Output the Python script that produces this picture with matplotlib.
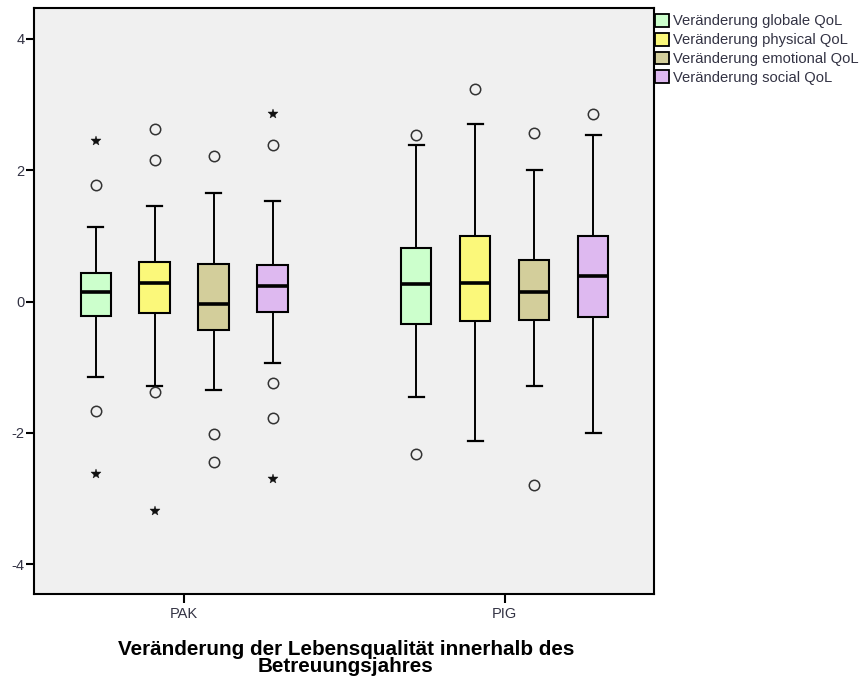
import numpy as np
import matplotlib
matplotlib.use('Agg')
import matplotlib.pyplot as plt
from matplotlib.patches import Patch

plt.rcParams['font.family'] = ['Liberation Sans', 'DejaVu Sans']
plt.rcParams['axes.unicode_minus'] = False

groups = ['PAK', 'PIG']
series = ['Veränderung globale QoL', 'Veränderung physical QoL',
          'Veränderung emotional QoL', 'Veränderung social QoL']
colors = ['#CCFFCC', '#FBF87A', '#D3CE9B', '#DEB9F0']

# box statistics per series, [PAK, PIG]
q1 = [[-0.22, -0.34], [-0.17, -0.30], [-0.43, -0.28], [-0.16, -0.24]]
med = [[0.15, 0.27], [0.29, 0.28], [-0.04, 0.14], [0.24, 0.39]]
q3 = [[0.44, 0.81], [0.60, 1.00], [0.57, 0.64], [0.55, 1.00]]
whislo = [[-1.15, -1.45], [-1.28, -2.12], [-1.35, -1.29], [-0.93, -2.00]]
whishi = [[1.14, 2.38], [1.46, 2.70], [1.65, 2.00], [1.53, 2.54]]

# outliers (circles) and extremes (stars)
outliers = [
    [[1.78, -1.67], [2.54, -2.32]],
    [[2.62, 2.15, -1.38], [3.24]],
    [[2.22, -2.01, -2.44], [2.56, -2.79]],
    [[2.39, -1.24, -1.77], [2.85]],
]
extremes = [
    [[2.44, -2.63], []],
    [[-3.18], []],
    [[], []],
    [[2.85, -2.70], []],
]

fig = plt.figure(figsize=(8.66, 6.78), dpi=100)
ax = fig.add_axes([0.0393, 0.1239, 0.7159, 0.8636])
ax.set_facecolor('#F0F0F0')

offsets = np.array([-1.5, -0.5, 0.5, 1.5]) * 0.184
width = 0.094

for s in range(len(series)):
    stats = []
    pos = []
    for g in range(len(groups)):
        stats.append(dict(med=med[s][g], q1=q1[s][g], q3=q3[s][g],
                          whislo=whislo[s][g], whishi=whishi[s][g], fliers=[]))
        pos.append(g + offsets[s])
    ax.bxp(stats, positions=pos, widths=width, patch_artist=True,
           showfliers=False, manage_ticks=False,
           boxprops=dict(facecolor=colors[s], edgecolor='black', linewidth=1.5),
           medianprops=dict(color='black', linewidth=2.6, solid_capstyle='butt'),
           whiskerprops=dict(color='black', linewidth=1.4),
           capprops=dict(color='black', linewidth=1.6),
           capwidths=0.047)
    for g in range(len(groups)):
        x = g + offsets[s]
        if outliers[s][g]:
            ax.plot([x] * len(outliers[s][g]), outliers[s][g], 'o', ms=7.5,
                    mfc='none', mec='#333333', mew=1.1, zorder=4)
        if extremes[s][g]:
            ax.plot([x] * len(extremes[s][g]), extremes[s][g], ls='none',
                    marker='*', ms=7, mfc='#111111', mec='#111111', mew=0.3, zorder=4)

ax.set_xlim(-0.468, 1.466)
ax.set_ylim(-4.45, 4.46)
ax.set_xticks([0, 1])
ax.set_xticklabels(groups)
ax.set_yticks([-4, -2, 0, 2, 4])
ax.tick_params(axis='y', length=6, width=1.5, pad=1, labelsize=10.5, labelcolor='#333344')
ax.tick_params(axis='x', length=6.5, width=1.5, pad=3, labelsize=10.5, labelcolor='#333344')
for sp in ax.spines.values():
    sp.set_linewidth(1.5)
    sp.set_color('black')

fig.text(0.3995, 1 - 640 / 678, 'Veränderung der Lebensqualität innerhalb des\nBetreuungsjahres',
         ha='center', va='top', fontsize=14.9, fontweight='bold', linespacing=0.9)

handles = [Patch(facecolor=c, edgecolor='black', linewidth=1.3) for c in colors]
fig.legend(handles, series, loc='upper left', bbox_to_anchor=(655 / 866, 1 - 14 / 678),
           frameon=False, fontsize=10.6, handlelength=0.95, handleheight=0.95,
           handletextpad=0.3, labelspacing=0.3, borderpad=0, borderaxespad=0,
           labelcolor='#333344')

fig.savefig('out.png', dpi=100)
